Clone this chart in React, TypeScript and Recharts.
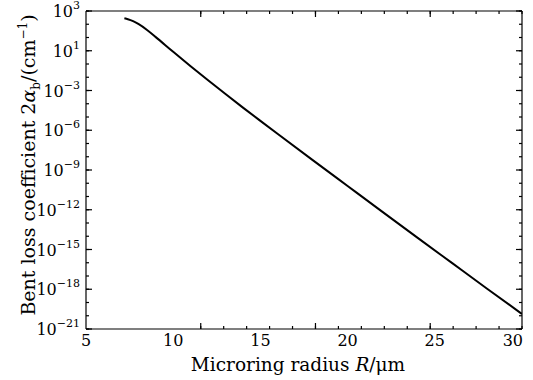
import { LineChart, Line, XAxis, YAxis, Label } from 'recharts';

// bend loss vs microring radius
const radius = [7.2, 7.4, 7.7, 8, 8.5, 9, 10, 11, 12, 13, 14, 15, 16, 18, 20, 22, 24, 26, 28, 30];
const loss = [
  2.8e2, 2.4e2, 1.7e2, 1.05e2, 3.7e1, 1.07e1, 8.3e-1, 6.8e-2, 5.9e-3, 5.4e-4, 5.1e-5, 5.1e-6,
  5.2e-7, 5.6e-9, 6.2e-11, 6.9e-13, 7.9e-15, 9.3e-17, 1.1e-18, 1.35e-20,
];

const xTicks = [5, 10, 15, 20, 25, 30];
const xMinorTicks = [5, 6, 7, 8, 9, 10, 11, 12, 13, 14, 15, 16, 17, 18, 19, 20, 21, 22, 23, 24, 25, 26, 27, 28, 29, 30];
const yTicks = [1e-21, 1e-18, 1e-15, 1e-12, 1e-9, 1e-6, 1e-3, 1, 1e3];
const yTickExponents = ['\u221221', '\u221218', '\u221215', '\u221212', '\u22129', '\u22126', '\u22123', '1', '3'];
const yMinorTicks = Array.from({ length: 25 }, (_, i) => Math.pow(10, i - 21));

const data = radius.map((r, i) => ({ r, loss: loss[i] }));

const FONT = '"DejaVu Serif", serif';
const X_DOMAIN: [number, number] = [5, 30];
const Y_DOMAIN: [number, number] = [1e-21, 1e3];
const THIN = 0.01; // axes must have a size > 0 to draw at all

function XTick({ x, y, payload }: any) {
  const last = payload.value === 30;
  return (
    <text x={last ? x + 1 : x} y={y} dy={13} textAnchor={last ? 'end' : 'middle'} fontFamily={FONT} fontSize={16} fill="#000">
      {payload.value}
    </text>
  );
}

function YTick({ x, y, payload }: any) {
  const i = yTicks.findIndex((t) => Math.abs(Math.log10(t) - Math.log10(payload.value)) < 0.01);
  return (
    <text x={x} y={y} dy={6} textAnchor="end" fontFamily={FONT} fontSize={16} fill="#000">
      10<tspan dy={-8} fontSize={11}>{yTickExponents[i]}</tspan>
    </text>
  );
}

// tick marks only, no label
function NoLabel() {
  return null;
}

function XTitle({ viewBox }: any) {
  const cx = viewBox.x + viewBox.width / 2 - 6;
  return (
    <text x={cx} y={371} textAnchor="middle" fontFamily={FONT} fontSize={18.5} fill="#000">
      Microring radius <tspan fontStyle="italic">R</tspan>/μm
    </text>
  );
}

function YTitle() {
  const x = 35;
  const y = 165;
  return (
    <text x={x} y={y} transform={`rotate(-90, ${x}, ${y})`} textAnchor="middle" fontFamily={FONT} fontSize={19} fill="#000">
      Bent loss coefficient 2<tspan fontStyle="italic">α</tspan>
      <tspan dy={5} fontSize={12}>b</tspan>
      <tspan dy={-5}>/(cm</tspan>
      <tspan dy={-8} fontSize={12}>{'\u22121'}</tspan>
      <tspan dy={8}>)</tspan>
    </text>
  );
}

const lineStyle = { stroke: '#000', strokeWidth: 1.2 };

export default function App() {
  return (
    <div style={{ position: 'absolute', left: 0, top: 0, background: '#fff' }}>
      <LineChart width={533} height={380} data={data} margin={{ top: 11, right: 11, bottom: 11, left: 10 }}>
        <XAxis
          dataKey="r"
          type="number"
          domain={X_DOMAIN}
          allowDataOverflow
          ticks={xTicks}
          tick={<XTick />}
          tickLine={false}
          tickSize={0}
          tickMargin={4}
          axisLine={lineStyle}
          height={40}
          interval={0}
        >
          <Label content={<XTitle />} />
        </XAxis>
        <YAxis
          type="number"
          scale="log"
          domain={Y_DOMAIN}
          allowDataOverflow
          ticks={yTicks}
          tick={<YTick />}
          tickLine={false}
          tickSize={0}
          tickMargin={6}
          axisLine={lineStyle}
          width={76}
          interval={0}
        >
          <Label content={<YTitle />} />
        </YAxis>

        {/* inward tick marks on all four sides */}
        <XAxis xAxisId="bMaj" type="number" domain={X_DOMAIN} allowDataOverflow ticks={xTicks} interval={0} mirror height={THIN} tick={<NoLabel />} tickSize={6} tickLine={lineStyle} axisLine={false} />
        <XAxis xAxisId="bMin" type="number" domain={X_DOMAIN} allowDataOverflow ticks={xMinorTicks} interval={0} mirror height={THIN} tick={<NoLabel />} tickSize={3} tickLine={lineStyle} axisLine={false} />
        <XAxis xAxisId="tMaj" orientation="top" type="number" domain={X_DOMAIN} allowDataOverflow ticks={xTicks} interval={0} mirror height={THIN} tick={<NoLabel />} tickSize={6} tickLine={lineStyle} axisLine={lineStyle} />
        <XAxis xAxisId="tMin" orientation="top" type="number" domain={X_DOMAIN} allowDataOverflow ticks={xMinorTicks} interval={0} mirror height={THIN} tick={<NoLabel />} tickSize={3} tickLine={lineStyle} axisLine={false} />
        <YAxis yAxisId="lMaj" type="number" scale="log" domain={Y_DOMAIN} allowDataOverflow ticks={yTicks} interval={0} mirror width={THIN} tick={<NoLabel />} tickSize={6} tickLine={lineStyle} axisLine={false} />
        <YAxis yAxisId="lMin" type="number" scale="log" domain={Y_DOMAIN} allowDataOverflow ticks={yMinorTicks} interval={0} mirror width={THIN} tick={<NoLabel />} tickSize={3} tickLine={lineStyle} axisLine={false} />
        <YAxis yAxisId="rMaj" orientation="right" type="number" scale="log" domain={Y_DOMAIN} allowDataOverflow ticks={yTicks} interval={0} mirror width={THIN} tick={<NoLabel />} tickSize={6} tickLine={lineStyle} axisLine={lineStyle} />
        <YAxis yAxisId="rMin" orientation="right" type="number" scale="log" domain={Y_DOMAIN} allowDataOverflow ticks={yMinorTicks} interval={0} mirror width={THIN} tick={<NoLabel />} tickSize={3} tickLine={lineStyle} axisLine={false} />

        <Line
          type="monotone"
          dataKey="loss"
          stroke="#000"
          strokeWidth={2}
          dot={false}
          isAnimationActive={false}
        />
      </LineChart>
    </div>
  );
}
